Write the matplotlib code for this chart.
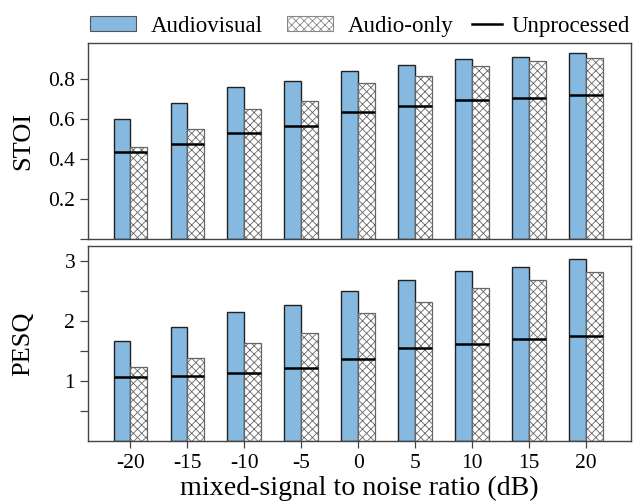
import matplotlib
matplotlib.use("Agg")
import matplotlib.pyplot as plt
import numpy as np
from matplotlib.patches import Patch
from matplotlib.lines import Line2D

plt.rcParams['font.family'] = ['Liberation Serif', 'DejaVu Serif']
plt.rcParams['hatch.color'] = '#8a8a8a'
plt.rcParams['hatch.linewidth'] = 0.6

snr_labels = ['-20', '-15', '-10', '-5', '0', '5', '10', '15', '20']
stoi_av = [0.60, 0.68, 0.76, 0.79, 0.84, 0.87, 0.90, 0.91, 0.93]
stoi_ao = [0.46, 0.55, 0.65, 0.69, 0.78, 0.815, 0.865, 0.89, 0.905]
stoi_un = [0.435, 0.477, 0.53, 0.566, 0.634, 0.666, 0.696, 0.706, 0.72]
pesq_av = [1.68, 1.90, 2.15, 2.28, 2.51, 2.69, 2.84, 2.91, 3.04]
pesq_ao = [1.24, 1.39, 1.64, 1.80, 2.14, 2.33, 2.56, 2.69, 2.83]
pesq_un = [1.08, 1.09, 1.14, 1.23, 1.37, 1.55, 1.62, 1.70, 1.75]

AV_COLOR = '#86b9e0'
SPINE = '#444444'
W = 0.295
HATCH = 'xxxx'

fig = plt.figure(figsize=(6.36, 5.04), dpi=100)
ax1 = fig.add_axes([0.1379, 0.5252, 0.8538, 0.3889])
ax2 = fig.add_axes([0.1379, 0.1244, 0.8538, 0.3869])

x = np.arange(len(snr_labels))

def draw(ax, av, ao, un):
    ax.bar(x, av, width=-W, align='edge', color=AV_COLOR, edgecolor='#222222', linewidth=1.0, zorder=2)
    ax.bar(x, ao, width=W, align='edge', color='white', edgecolor='#666666', hatch=HATCH, linewidth=0.9, zorder=2)
    ax.hlines(un, x - W, x + W, colors='black', linewidth=1.8, zorder=3)
    ax.set_xlim(-0.75, 8.79)
    for s in ax.spines.values():
        s.set_color(SPINE)
        s.set_linewidth(1.0)
    ax.tick_params(axis='y', direction='out', length=6, width=0.9, color=SPINE, labelsize=15.5, pad=3)

draw(ax1, stoi_av, stoi_ao, stoi_un)
draw(ax2, pesq_av, pesq_ao, pesq_un)

ax1.set_ylim(0, 0.98)
ax1.set_yticks([0, 0.2, 0.4, 0.6, 0.8])
ax1.set_yticklabels(['', '0.2', '0.4', '0.6', '0.8'])
ax1.set_xticks([])
ax1.set_ylabel('STOI', fontsize=19)

ax2.set_ylim(0, 3.25)
ax2.set_yticks([0.5, 1, 1.5, 2, 2.5, 3])
ax2.set_yticklabels(['', '1', '', '2', '', '3'])
ax2.set_xticks(x)
ax2.set_xticklabels(snr_labels)
ax2.tick_params(axis='x', direction='out', length=5, width=0.9, color=SPINE, labelsize=15.5, pad=4)
ax2.set_ylabel('PESQ', fontsize=19)
ax2.set_xlabel('mixed-signal to noise ratio (dB)', fontsize=20.2, labelpad=2)
ax1.yaxis.set_label_coords(-0.098, 0.5)
ax2.yaxis.set_label_coords(-0.098, 0.5)

patch_handles = [Patch(facecolor=AV_COLOR, edgecolor='#555555', linewidth=0.8),
                 Patch(facecolor='white', edgecolor='#888888', hatch=HATCH, linewidth=0.8)]
fig.legend(patch_handles, ['Audiovisual', 'Audio-only'], loc='upper left',
           bbox_to_anchor=(90 / 636, 0.969), ncol=2, frameon=False, fontsize=16.5,
           handlelength=2.0, handleheight=0.6, handletextpad=0.65, columnspacing=1.05,
           borderpad=0, borderaxespad=0)
fig.legend([Line2D([0], [0], color='black', linewidth=1.8)], ['Unprocessed'], loc='upper left',
           bbox_to_anchor=(471.5 / 636, 0.969), frameon=False, fontsize=16.5,
           handlelength=1.35, handletextpad=0.4, borderpad=0, borderaxespad=0)

fig.savefig('out.png', dpi=100)
